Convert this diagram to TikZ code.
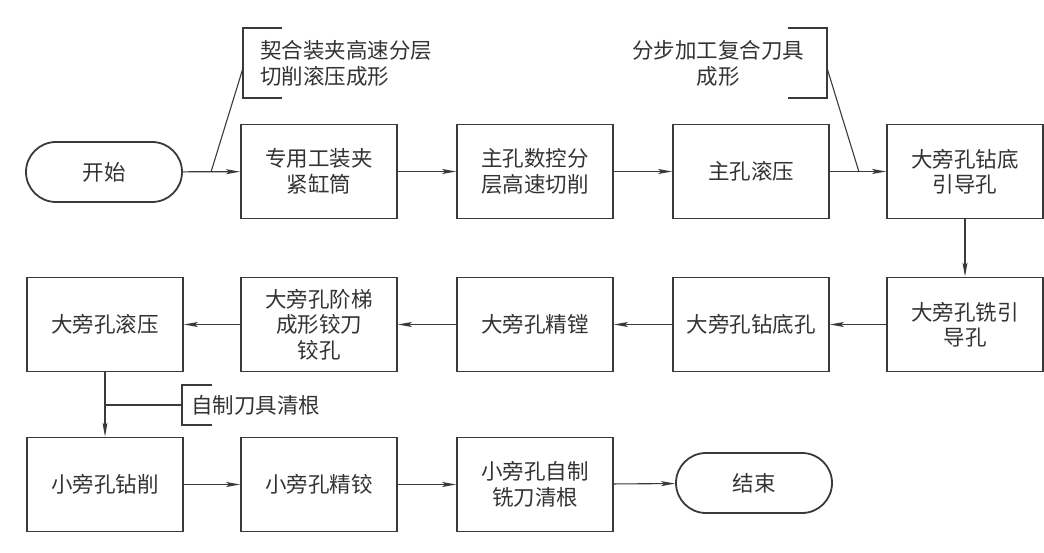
\documentclass[tikz,border=0pt]{standalone}
\usepackage{fontspec}
\setmainfont{Noto Sans CJK SC}
\usetikzlibrary{arrows.meta,shapes.misc}
\definecolor{ink}{HTML}{3A3A3A}
\definecolor{txt}{HTML}{333333}
\begin{document}
\begin{tikzpicture}[x=1pt,y=-1pt,
  every node/.style={text=txt,font=\fontsize{21.5}{25.5}\selectfont},
  proc/.style={draw=ink,line width=1.8pt,rectangle,minimum width=156pt,minimum height=94pt,align=center,inner sep=0pt},
  term/.style={draw=ink,line width=1.8pt,rounded rectangle,minimum width=156pt,minimum height=60pt,inner sep=0pt},
  conn/.style={draw=ink,line width=1.1pt,-{Stealth[length=14pt,width=5pt,inset=3pt]}},
  plain/.style={draw=ink,line width=1.1pt},
  brk/.style={draw=ink,line width=1.8pt},
  note/.style={align=left,inner sep=0pt}]
\useasboundingbox (0,0) rectangle (1044,553);
% row 1
\node[term] (start) at (104,172) {开始};
\node[proc] (a1) at (319,171.5) {专用工装夹\\紧缸筒};
\node[proc] (a2) at (535,171.5) {主孔数控分\\层高速切削};
\node[proc] (a3) at (751,171.5) {主孔滚压};
\node[proc] (a4) at (965,171.5) {大旁孔钻底\\引导孔};
% row 2
\node[proc] (b5) at (965,324.5) {大旁孔铣引\\导孔};
\node[proc] (b4) at (751,324.5) {大旁孔钻底孔};
\node[proc] (b3) at (535,324.5) {大旁孔精镗};
\node[proc] (b2) at (319,324.5) {大旁孔阶梯\\成形铰刀\\铰孔};
\node[proc] (b1) at (105,324.5) {大旁孔滚压};
% row 3
\node[proc] (c1) at (105,484.5) {小旁孔钻削};
\node[proc] (c2) at (319,484.5) {小旁孔精铰};
\node[proc] (c3) at (535,484.5) {小旁孔自制\\铣刀清根};
\node[term] (end) at (754,483) {结束};
% connectors
\draw[conn] (start) -- (a1);
\draw[conn] (a1) -- (a2);
\draw[conn] (a2) -- (a3);
\draw[conn] (a3) -- (a4);
\draw[conn] (a4) -- (b5);
\draw[conn] (b5) -- (b4);
\draw[conn] (b4) -- (b3);
\draw[conn] (b3) -- (b2);
\draw[conn] (b2) -- (b1);
\draw[conn] (b1.south) -- (c1.north);
\draw[conn] (c1) -- (c2);
\draw[conn] (c2) -- (c3);
\draw[conn] (c3) -- (end);
% annotation 1
\draw[brk] (282,28) -- (243,28) -- (243,98) -- (282,98);
\node[note,anchor=west] (n1) at (260,63.5) {契合装夹高速分层\\切削滚压成形};
\coordinate (p1) at (243,68);
\coordinate (q1) at (211,172);
\draw[plain] (p1) -- (q1);
% annotation 2
\draw[brk] (788,28) -- (827,28) -- (827,98) -- (788,98);
\node[note,align=center] (n2) at (718,63.5) {分步加工复合刀具\\成形};
\coordinate (p2) at (827,68);
\coordinate (q2) at (859,172);
\draw[plain] (p2) -- (q2);
% annotation 3
\draw[brk] (212,385) -- (182,385) -- (182,425) -- (212,425);
\node[note,anchor=west] (n3) at (191,405) {自制刀具清根};
\coordinate (p3) at (105,405);
\coordinate (q3) at (182,405);
\draw[plain] (p3) -- (q3);
\end{tikzpicture}
\end{document}
